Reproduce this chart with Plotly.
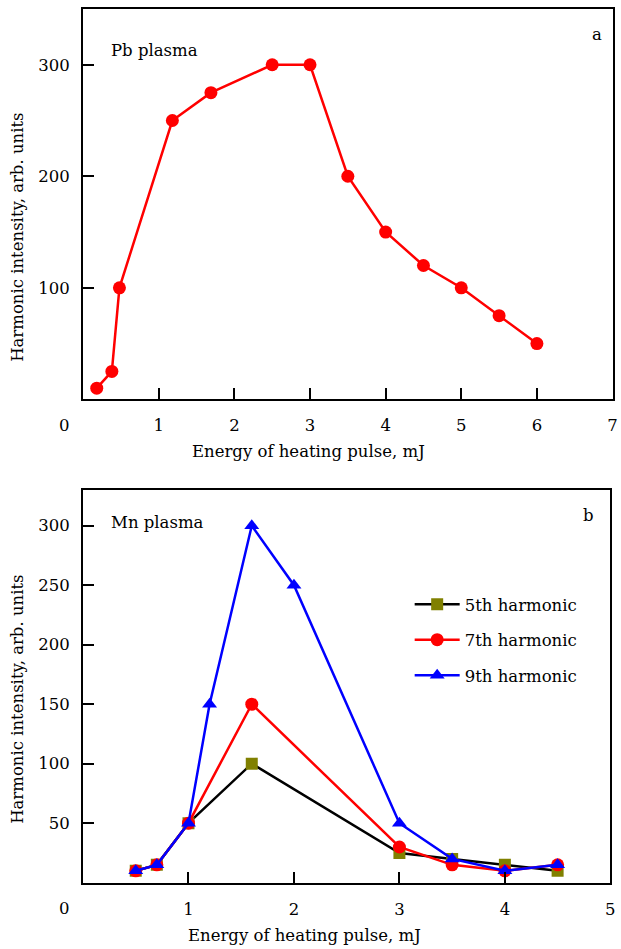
import plotly.graph_objects as go

# Panel (a): Pb plasma
pb_energy = [0.18, 0.38, 0.48, 1.18, 1.69, 2.5, 3.0, 3.5, 4.0, 4.5, 5.0, 5.5, 6.0]
pb_intensity = [10, 25, 100, 250, 275, 300, 300, 200, 150, 120, 100, 75, 50]

# Panel (b): Mn plasma, three harmonics
mn_energy = [0.5, 0.7, 1.0, 1.6, 3.0, 3.5, 4.0, 4.5]
h5_intensity = [10, 15, 50, 100, 25, 20, 15, 10]
h7_intensity = [10, 15, 50, 150, 30, 15, 10, 15]
mn9_energy = [0.5, 0.7, 1.0, 1.2, 1.6, 2.0, 3.0, 3.5, 4.0, 4.5]
h9_intensity = [10, 15, 50, 150, 300, 250, 50, 20, 10, 15]

top_xticks = [1, 2, 3, 4, 5, 6, 7]
top_yticks = [100, 200, 300]
bot_xticks = [1, 2, 3, 4, 5]
bot_yticks = [50, 100, 150, 200, 250, 300]

W, H = 621, 949
FONT = "DejaVu Serif"
FS = 16.5

fig = go.Figure()

fig.add_trace(go.Scatter(
    x=pb_energy, y=pb_intensity, mode="lines+markers",
    line=dict(color="#ff0000", width=2.5),
    marker=dict(symbol="circle", size=13, color="#ff0000"),
    xaxis="x", yaxis="y", showlegend=False,
))

fig.add_trace(go.Scatter(
    x=mn_energy, y=h5_intensity, mode="lines+markers", name="5th harmonic",
    line=dict(color="#000000", width=2.5),
    marker=dict(symbol="square", size=12, color="#808000"),
    xaxis="x2", yaxis="y2", legendgroup="h5",
))
fig.add_trace(go.Scatter(
    x=mn_energy, y=h7_intensity, mode="lines+markers", name="7th harmonic",
    line=dict(color="#ff0000", width=2.5),
    marker=dict(symbol="circle", size=13, color="#ff0000"),
    xaxis="x2", yaxis="y2", legendgroup="h7",
))
fig.add_trace(go.Scatter(
    x=mn9_energy, y=h9_intensity, mode="lines+markers", name="9th harmonic",
    line=dict(color="#0000ff", width=2.5),
    marker=dict(symbol="triangle-up", size=13, color="#0000ff"),
    xaxis="x2", yaxis="y2", legendgroup="h9",
))


def px_x(p):
    return p / W


def px_y(p):
    return 1 - p / H


axis_common = dict(
    showline=True, linecolor="black", linewidth=2, mirror=True,
    ticks="inside", ticklen=11, tickwidth=2, tickcolor="black",
    showgrid=False, zeroline=False,
    tickfont=dict(family=FONT, size=FS, color="black"),
)

fig.update_layout(
    width=W, height=H,
    margin=dict(l=0, r=0, t=0, b=0),
    paper_bgcolor="white", plot_bgcolor="white",
    font=dict(family=FONT, size=FS, color="black"),
    xaxis=dict(domain=[px_x(83.8), px_x(617.5)], range=[0, 7],
               tickvals=top_xticks, anchor="y", ticklabelstandoff=10,
               **axis_common),
    yaxis=dict(domain=[px_y(399.3), px_y(9)], range=[0, 350],
               tickvals=top_yticks, anchor="x", ticklabelstandoff=8,
               **axis_common),
    xaxis2=dict(domain=[px_x(83.7), px_x(615.3)], range=[0, 5],
                tickvals=bot_xticks, anchor="y2", ticklabelstandoff=10,
                **axis_common),
    yaxis2=dict(domain=[px_y(882.7), px_y(490)], range=[0, 330],
                tickvals=bot_yticks, anchor="x2", ticklabelstandoff=8,
                **axis_common),
    legend=dict(
        x=px_x(413), y=px_y(587), xanchor="left", yanchor="top",
        bgcolor="rgba(0,0,0,0)", borderwidth=0,
        font=dict(family=FONT, size=FS, color="black"),
        traceorder="grouped", tracegroupgap=11, itemwidth=45,
    ),
)

annotations = [
    # shared origin labels
    dict(text="0", x=px_x(65.3), y=px_y(425)),
    dict(text="0", x=px_x(65.3), y=px_y(908)),
    # axis titles
    dict(text="Energy of heating pulse, mJ", x=px_x(311), y=px_y(452)),
    dict(text="Energy of heating pulse, mJ", x=px_x(307), y=px_y(935)),
    dict(text="Harmonic intensity, arb. units", x=px_x(17), y=px_y(237),
         textangle=-90),
    dict(text="Harmonic intensity, arb. units", x=px_x(17), y=px_y(699),
         textangle=-90),
    # panel labels
    dict(text="a", x=px_x(601.5), y=px_y(34)),
    dict(text="b", x=px_x(593.5), y=px_y(515)),
]
for a in annotations:
    a.update(xref="paper", yref="paper", showarrow=False,
             xanchor="center", yanchor="middle",
             font=dict(family=FONT, size=FS, color="black"))
    fig.add_annotation(**a)

for txt, y in (("Pb plasma", 50), ("Mn plasma", 522)):
    fig.add_annotation(text=txt, x=px_x(110), y=px_y(y), xref="paper",
                       yref="paper", showarrow=False, xanchor="left",
                       yanchor="middle",
                       font=dict(family=FONT, size=FS, color="black"))

fig.write_html("out.html")
